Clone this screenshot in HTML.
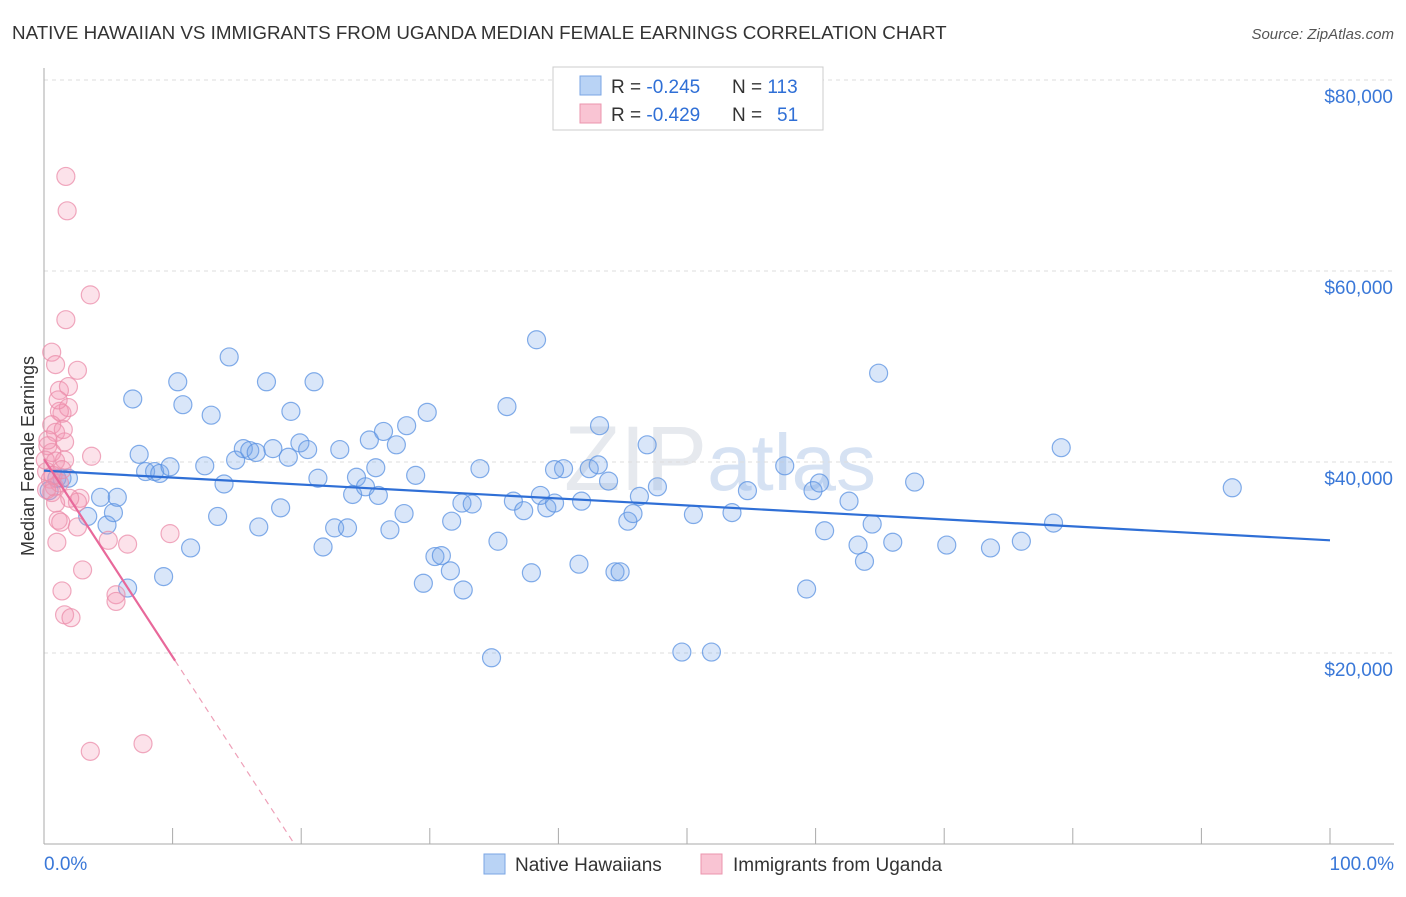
<!DOCTYPE html>
<html><head><meta charset="utf-8"><style>
body{margin:0;background:#fff;font-family:"Liberation Sans",sans-serif}
svg text{font-family:"Liberation Sans",sans-serif}
</style></head><body>
<svg id="chart" width="1406" height="892" xmlns="http://www.w3.org/2000/svg">
<text x="12" y="39" font-size="18.8" fill="#333">NATIVE HAWAIIAN VS IMMIGRANTS FROM UGANDA MEDIAN FEMALE EARNINGS CORRELATION CHART</text>
<text x="1394" y="39" font-size="15" fill="#555" text-anchor="end" font-style="italic">Source: ZipAtlas.com</text>
<text x="720" y="490" font-size="92" fill="#e6e9ee" text-anchor="middle" font-family="Liberation Serif">ZIP<tspan fill="#d6e2f3" font-family="Liberation Sans" font-size="80">atlas</tspan></text>
<g id="grid"></g>
<g id="axes"></g>
<g id="pts"></g>
<g id="lines"></g>
<text transform="translate(34,456) rotate(-90)" font-size="18" fill="#333" text-anchor="middle">Median Female Earnings</text>
<g>
<rect x="553" y="67" width="270" height="63" fill="#fff" stroke="#ccc"/>
<rect x="580" y="76" width="21" height="19" fill="#b9d3f5" stroke="#7aa6e4"/>
<rect x="580" y="104" width="21" height="19" fill="#f9c4d3" stroke="#eb95ae"/>
<text x="611" y="93" font-size="19" fill="#333">R = <tspan fill="#2f6fd6">-0.245</tspan><tspan x="732">N = </tspan><tspan fill="#2f6fd6">113</tspan></text>
<text x="611" y="121" font-size="19" fill="#333">R = <tspan fill="#2f6fd6">-0.429</tspan><tspan x="732">N = </tspan><tspan fill="#2f6fd6" x="777">51</tspan></text>
</g>
<g>
<rect x="484" y="854" width="21" height="20" fill="#b9d3f5" stroke="#7aa6e4"/>
<text x="515" y="871" font-size="19" fill="#333">Native Hawaiians</text>
<rect x="701" y="854" width="21" height="20" fill="#f9c4d3" stroke="#eb95ae"/>
<text x="733" y="871" font-size="19" fill="#333">Immigrants from Uganda</text>
</g>
</svg>
<script>
const yTicks=[20000,40000,60000,80000];
const yTickLabels=["$20,000","$40,000","$60,000","$80,000"];
const blueX=[0.4,1.0,1.4,1.9,3.4,4.4,4.9,5.4,5.7,6.5,6.9,7.4,7.9,8.6,9.0,9.3,9.8,10.4,10.8,11.4,12.5,13.0,13.5,14.0,14.4,14.9,15.5,16.0,16.5,16.7,17.3,17.8,18.4,19.0,19.2,19.9,20.5,21.0,21.3,21.7,22.6,23.0,23.6,24.0,24.3,25.0,25.3,25.8,26.4,26.9,27.4,28.0,28.2,28.9,29.5,29.8,30.4,30.9,31.6,31.7,32.6,32.5,33.9,34.8,35.3,36.0,36.5,37.3,37.9,38.3,39.1,39.7,40.4,41.6,41.8,42.4,43.1,43.2,43.9,44.4,44.8,45.4,45.8,46.3,46.9,47.7,49.6,50.5,51.9,53.5,54.7,57.6,59.3,59.8,60.3,60.7,62.6,63.3,63.8,64.4,64.9,66.0,67.7,70.2,73.6,76.0,78.5,79.1,92.4,39.7,38.6,33.3,26.0];
const blueY=[37.0,38.3,38.3,38.3,34.3,36.3,33.4,34.7,36.3,26.8,46.6,40.8,39.0,39.0,38.8,28.0,39.5,48.4,46.0,31.0,39.6,44.9,34.3,37.7,51.0,40.2,41.4,41.2,41.0,33.2,48.4,41.4,35.2,40.5,45.3,42.0,41.3,48.4,38.3,31.1,33.1,41.3,33.1,36.6,38.4,37.4,42.3,39.4,43.2,32.9,41.8,34.6,43.8,38.6,27.3,45.2,30.1,30.2,28.6,33.8,26.6,35.7,39.3,19.5,31.7,45.8,35.9,34.9,28.4,52.8,35.2,35.7,39.3,29.3,35.9,39.3,39.7,43.8,38.0,28.5,28.5,33.8,34.6,36.4,41.8,37.4,20.1,34.5,20.1,34.7,37.0,39.6,26.7,37.0,37.8,32.8,35.9,31.3,29.6,33.5,49.3,31.6,37.9,31.3,31.0,31.7,33.6,41.5,37.3,39.2,36.5,35.6,36.5];
const pinkX=[0.6,0.9,1.2,1.7,1.8,3.6,1.7,2.6,1.9,1.4,1.2,1.9,0.6,0.9,1.6,1.5,0.3,0.6,0.9,0.2,0.5,0.8,1.2,0.6,3.7,2.8,2.6,2.6,1.1,1.3,1.0,3.0,5.0,6.5,9.8,1.4,5.6,5.6,1.6,2.1,3.6,7.7,0.1,0.3,1.1,2.0,1.6,0.7,1.4,0.2,0.9];
const pinkY=[51.5,50.2,47.5,69.9,66.3,57.5,54.9,49.6,47.9,45.1,45.3,45.7,43.9,43.1,42.1,43.4,41.7,41.0,40.1,39.0,38.2,37.4,37.8,36.8,40.6,36.2,35.8,33.2,33.9,33.7,31.6,28.7,31.8,31.4,32.5,26.5,26.1,25.4,24.0,23.7,9.7,10.5,40.2,42.3,46.5,36.2,40.2,38.6,39.2,37.1,35.7];
const blueTrend=[39100,31800];
const pinkTrend=[40300,-2070];
const pinkSolidEnd=10.2;
const NS="http://www.w3.org/2000/svg";
const X0=44,X1=1330,Y0=844,PXK=191/20000;
const sx=v=>X0+(X1-X0)*v/100;
const sy=v=>Y0-v*PXK;
function mk(tag,attrs,parent){const e=document.createElementNS(NS,tag);for(const k in attrs)e.setAttribute(k,attrs[k]);parent.appendChild(e);return e;}
const grid=document.getElementById('grid'),axes=document.getElementById('axes'),pts=document.getElementById('pts'),lines=document.getElementById('lines');
let g=mk('line',{x1:X0,x2:1394,y1:80,y2:80,stroke:'#ddd','stroke-dasharray':'4,4'},grid);


yTicks.forEach((t,i)=>{
 const l=mk('line',{x1:X0,x2:1394,y1:sy(t),y2:sy(t),stroke:'#ddd','stroke-dasharray':'4,4'},grid);
 
 
 const tx=mk('text',{x:1393,y:sy(t)+23,'font-size':19,fill:'#3a78d8','text-anchor':'end'},axes);
 tx.textContent=yTickLabels[i];
 
 
});
let ax=mk('line',{x1:X0,x2:X0,y1:68,y2:Y0,stroke:'#aaa'},axes);


ax=mk('line',{x1:X0,x2:1394,y1:Y0,y2:Y0,stroke:'#aaa'},axes);


for(let i=1;i<=10;i++){const t=mk('line',{x1:sx(i*10),x2:sx(i*10),y1:828,y2:Y0,stroke:'#aaa'},axes);
 
 }
let xl=mk('text',{x:44,y:870,'font-size':19,fill:'#3a78d8'},axes);xl.textContent='0.0%';


xl=mk('text',{x:1394,y:870,'font-size':19,fill:'#3a78d8','text-anchor':'end'},axes);xl.textContent='100.0%';


blueX.forEach((x,i)=>{const c=mk('circle',{cx:sx(x),cy:sy(blueY[i]*1000),r:9,fill:'rgba(120,165,235,0.28)',stroke:'rgba(90,145,225,0.75)','stroke-width':1.2},pts);
 
 });
pinkX.forEach((x,i)=>{const c=mk('circle',{cx:sx(x),cy:sy(pinkY[i]*1000),r:9,fill:'rgba(245,150,180,0.28)',stroke:'rgba(235,140,170,0.75)','stroke-width':1.2},pts);
 
 });
let tl=mk('line',{x1:sx(0),y1:sy(blueTrend[0]),x2:sx(100),y2:sy(blueTrend[1]),stroke:'#2f6fd6','stroke-width':2.2},lines);


const pf=x=>pinkTrend[0]+pinkTrend[1]*x;
const zx=-pinkTrend[0]/pinkTrend[1];
tl=mk('line',{x1:sx(0),y1:sy(pf(0)),x2:sx(pinkSolidEnd),y2:sy(pf(pinkSolidEnd)),stroke:'#e8689a','stroke-width':2.2},lines);


tl=mk('line',{x1:sx(pinkSolidEnd),y1:sy(pf(pinkSolidEnd)),x2:sx(zx),y2:sy(0),stroke:'#eea0b8','stroke-width':1.2,'stroke-dasharray':'6,5'},lines);


</script>
</body></html>
